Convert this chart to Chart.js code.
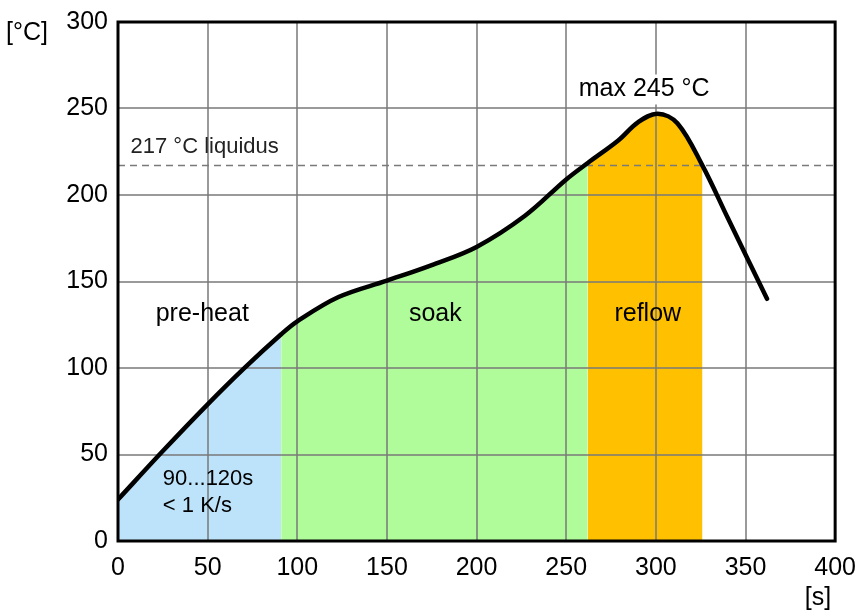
<!DOCTYPE html>
<html>
<head>
<meta charset="utf-8">
<script src="https://cdn.jsdelivr.net/npm/chart.js@4"></script>
<style>
  body { margin: 0; background: #fff; }
  #wrap { width: 860px; height: 614px; }
</style>
</head>
<body>
<div id="wrap"><canvas id="myChart" width="860" height="614"></canvas></div>
<script>
    // reflow profile: time [s] and temperature [°C]
    const times = [0, 25, 50, 70, 91, 100, 123, 150, 175, 200, 227, 250, 262, 279, 290, 301, 312, 326, 340, 362];
    const temps = [24, 52, 79, 99.5, 119.5, 127, 141, 150.5, 159.5, 170, 188, 209, 218.5, 231.5, 242, 247, 241.5, 217, 187, 140];

    // zone borders [s] and the liquidus line [°C]
    const preheatEnd = 91;
    const soakEnd = 262;
    const reflowEnd = 326;
    const liquidus = 217;

    const xticks = [0, 50, 100, 150, 200, 250, 300, 350, 400];
    const yticks = [0, 50, 100, 150, 200, 250, 300];

    const blue = '#bde3fa';
    const green = '#b1fc9a';
    const orange = '#ffc000';

    let curve = [];
    for (let i = 0; i < times.length; i++) {
        curve.push({ x: times[i], y: temps[i] });
    }

    function zonecolor(ctx) {
        const x = ctx.p0.parsed.x;
        if (x < preheatEnd) return blue;
        if (x < soakEnd) return green;
        if (x < reflowEnd) return orange;
        return 'rgba(0,0,0,0)';
    }

    const font = '"Liberation Sans", Arial, sans-serif';

    // grid goes over the coloured zones but under the curve
    const gridover = {
        id: 'gridover',
        afterDatasetDraw(chart, args) {
            if (args.index !== 2) return;
            const c = chart.ctx;
            const a = chart.chartArea;
            const sx = chart.scales.x;
            const sy = chart.scales.y;
            c.save();
            c.strokeStyle = '#7a7a7a';
            c.lineWidth = 1.5;
            c.beginPath();
            xticks.forEach(t => {
                const px = Math.round(sx.getPixelForValue(t));
                c.moveTo(px, a.top);
                c.lineTo(px, a.bottom);
            });
            yticks.forEach(t => {
                const py = Math.round(sy.getPixelForValue(t));
                c.moveTo(a.left, py);
                c.lineTo(a.right, py);
            });
            c.stroke();
            c.restore();
        },
        afterDraw(chart) {
            const c = chart.ctx;
            const a = chart.chartArea;
            const sx = chart.scales.x;
            const sy = chart.scales.y;
            c.save();
            c.strokeStyle = '#000';
            c.lineWidth = 3;
            c.strokeRect(a.left, a.top, a.right - a.left, a.bottom - a.top);

            c.fillStyle = '#000';
            c.textBaseline = 'middle';

            c.font = '25px ' + font;
            c.textAlign = 'center';
            c.fillText('pre-heat', sx.getPixelForValue(47), sy.getPixelForValue(131));
            c.fillText('soak', sx.getPixelForValue(177), sy.getPixelForValue(131));
            c.fillText('reflow', sx.getPixelForValue(295.5), sy.getPixelForValue(131));

            // max label sits on a white box
            const mx = sx.getPixelForValue(293.5);
            const my = sy.getPixelForValue(261);
            const w = c.measureText('max 245 °C').width;
            c.fillStyle = '#fff';
            c.fillRect(mx - w / 2 - 6, my - 15, w + 12, 30);
            c.fillStyle = '#000';
            c.fillText('max 245 °C', mx, my);

            c.textAlign = 'left';
            c.font = '22px ' + font;
            c.fillStyle = '#222';
            c.fillText('217 °C liquidus', sx.getPixelForValue(7), sy.getPixelForValue(228));
            c.fillStyle = '#000';
            c.fillText('90...120s', sx.getPixelForValue(25), sy.getPixelForValue(36));
            c.fillText('< 1 K/s', sx.getPixelForValue(25), sy.getPixelForValue(20.5));

            // axis units
            c.font = '25px ' + font;
            c.fillText('[°C]', 6, 33);
            c.textAlign = 'center';
            c.fillText('[s]', 818, 598);
            c.restore();
        }
    };

    const ctx = document.getElementById('myChart');
    const myChart = new Chart(ctx, {
        type: 'line',
        data: {
            datasets: [{
                // the profile curve
                data: curve,
                borderColor: '#000',
                borderWidth: 4.5,
                borderCapStyle: 'round',
                tension: 0.35,
                fill: false,
                pointRadius: 0
            }, {
                // liquidus line
                data: [{ x: 0, y: liquidus }, { x: 400, y: liquidus }],
                borderColor: '#7a7a7a',
                borderWidth: 1.5,
                borderDash: [7, 5],
                fill: false,
                pointRadius: 0
            }, {
                // zones under the curve
                data: curve,
                borderWidth: 0,
                borderColor: 'rgba(0,0,0,0)',
                tension: 0.35,
                fill: 'origin',
                backgroundColor: blue,
                segment: { backgroundColor: zonecolor },
                pointRadius: 0
            }]
        },
        options: {
            responsive: false,
            animation: false,
            layout: { padding: { top: 22, right: 22, left: 0, bottom: 0 } },
            plugins: {
                legend: { display: false },
                tooltip: { enabled: false }
            },
            scales: {
                x: {
                    type: 'linear',
                    min: 0,
                    max: 400,
                    afterFit(scale) { scale.height = 73; },
                    afterBuildTicks(scale) { scale.ticks = xticks.map(v => ({ value: v })); },
                    grid: { display: false },
                    border: { display: false },
                    ticks: { color: '#000', padding: 4, maxRotation: 0, font: { size: 25, family: font } }
                },
                y: {
                    min: 0,
                    max: 300,
                    afterFit(scale) { scale.width = 118; },
                    afterBuildTicks(scale) { scale.ticks = yticks.map(v => ({ value: v })); },
                    grid: { display: false },
                    border: { display: false },
                    ticks: { color: '#000', padding: 2, font: { size: 25, family: font } }
                }
            }
        },
        plugins: [gridover]
    });
</script>
</body>
</html>
